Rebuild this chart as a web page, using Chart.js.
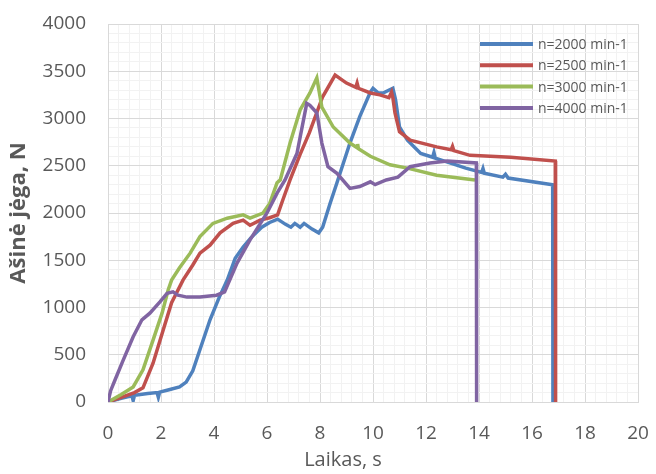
<!DOCTYPE html>
<html>
<head>
<meta charset="utf-8">
<script src="https://cdn.jsdelivr.net/npm/chart.js@4.4.1/dist/chart.umd.min.js"></script>
<style>
  html, body { margin: 0; padding: 0; background: #fff; }
  #wrap { width: 656px; height: 474px; }
</style>
</head>
<body>
<div id="wrap"><canvas id="forceChart" width="656" height="474"></canvas></div>
<script>
// measured axial force vs time for four spindle speeds
const labels = ['n=2000 min-1', 'n=2500 min-1', 'n=3000 min-1', 'n=4000 min-1'];
const colors = ['#4F81BD', '#C0504D', '#9BBB59', '#8064A2'];

const t2000 = [0, 0.5, 0.9, 0.95, 1.0, 1.5, 1.85, 1.9, 1.95, 2.3, 2.7, 2.95, 3.2, 3.5, 3.85, 4.2, 4.5, 4.8, 5.1, 5.4, 5.8, 6.1, 6.4, 6.7, 6.9, 7.05, 7.25, 7.4, 7.7, 7.95, 8.1, 8.38, 8.64, 9.13, 9.5, 9.9, 10.0, 10.2, 10.38, 10.75, 10.85, 11.0, 11.3, 11.8, 12.25, 12.3, 12.35, 12.9, 13.5, 14.1, 14.15, 14.2, 14.9, 15.0, 15.1, 16.78, 16.79];
const f2000 = [0, 40, 65, 15, 70, 90, 100, 50, 105, 130, 160, 210, 330, 580, 870, 1110, 1290, 1520, 1640, 1740, 1850, 1900, 1935, 1880, 1850, 1890, 1850, 1890, 1830, 1790, 1850, 2100, 2320, 2740, 3020, 3280, 3320, 3270, 3270, 3320, 3200, 2910, 2770, 2630, 2590, 2640, 2580, 2530, 2475, 2430, 2470, 2420, 2380, 2410, 2370, 2300, 0];

const t2500 = [0, 0.5, 1.0, 1.32, 1.7, 2.08, 2.4, 2.83, 3.2, 3.47, 3.85, 4.23, 4.72, 5.1, 5.36, 5.74, 6.1, 6.4, 6.6, 6.87, 7.25, 7.6, 8.1, 8.57, 9.0, 9.35, 9.4, 9.45, 9.9, 10.26, 10.6, 10.7, 10.75, 10.83, 11.0, 11.4, 12.4, 12.95, 13.0, 13.05, 13.66, 15.2, 16.88, 16.89];
const f2500 = [0, 50, 100, 150, 410, 760, 1050, 1290, 1450, 1575, 1660, 1790, 1890, 1925, 1870, 1925, 1950, 1980, 2140, 2350, 2620, 2850, 3230, 3460, 3375, 3330, 3375, 3320, 3270, 3250, 3220, 3280, 3220, 3060, 2860, 2770, 2700, 2670, 2705, 2660, 2610, 2590, 2550, 0];

const t3000 = [0, 0.5, 0.95, 1.32, 1.7, 2.04, 2.27, 2.4, 2.7, 3.1, 3.47, 3.96, 4.5, 5.1, 5.36, 5.85, 6.1, 6.38, 6.5, 6.87, 7.25, 7.62, 7.88, 8.07, 8.5, 9.13, 9.4, 9.42, 9.45, 9.9, 10.64, 11.3, 12.4, 13.85];
const f3000 = [0, 80, 160, 340, 655, 940, 1185, 1290, 1420, 1575, 1750, 1890, 1945, 1980, 1945, 2000, 2100, 2320, 2350, 2740, 3090, 3270, 3430, 3120, 2910, 2740, 2690, 2730, 2680, 2600, 2510, 2475, 2400, 2350];

const t4000 = [0, 0.1, 0.26, 0.57, 0.95, 1.28, 1.58, 1.96, 2.23, 2.45, 2.64, 2.98, 3.47, 4.1, 4.4, 4.87, 5.36, 6.0, 6.38, 6.68, 7.13, 7.5, 7.62, 7.88, 8.07, 8.3, 8.64, 9.13, 9.5, 9.9, 10.08, 10.5, 10.94, 11.4, 12.15, 12.8, 13.9, 13.91];
const f4000 = [0, 120, 230, 440, 690, 870, 940, 1060, 1150, 1165, 1130, 1110, 1110, 1130, 1165, 1470, 1715, 2000, 2210, 2350, 2630, 3160, 3140, 3060, 2740, 2490, 2420, 2260, 2280, 2330, 2300, 2350, 2380, 2490, 2530, 2550, 2530, 0];

const xTitle = 'Laikas, s';
const yTitle = 'Ašinė jėga, N';

const series = [[t2000, f2000], [t2500, f2500], [t3000, f3000], [t4000, f4000]];

const textColor = '#595959';
const majorGrid = '#d9d9d9';
const minorGrid = '#f2f2f2';

function isMultiple(v, step) {
  const r = v / step;
  return Math.abs(r - Math.round(r)) < 1e-6;
}

// legend drawn inside the plot, top right
const insideLegend = {
  id: 'insideLegend',
  afterDraw(chart) {
    const ctx = chart.ctx;
    ctx.save();
    ctx.font = '14px "Open Sans"';
    ctx.textBaseline = 'middle';
    chart.data.datasets.forEach((ds, i) => {
      const y = 44 + i * 21.3;
      ctx.strokeStyle = ds.borderColor;
      ctx.lineWidth = 4;
      ctx.beginPath();
      ctx.moveTo(480, y);
      ctx.lineTo(533, y);
      ctx.stroke();
      ctx.fillStyle = textColor;
      ctx.fillText(ds.label, 538, y + 1);
    });
    ctx.restore();
  }
};

// x axis title sits a little left of the plot centre
const xTitlePlugin = {
  id: 'xTitlePlugin',
  afterDraw(chart) {
    const ctx = chart.ctx;
    ctx.save();
    ctx.font = '20px "Open Sans"';
    ctx.fillStyle = textColor;
    ctx.textAlign = 'center';
    ctx.textBaseline = 'middle';
    ctx.fillText(xTitle, 343, 460);
    ctx.restore();
  }
};

const ctx = document.getElementById('forceChart').getContext('2d');
new Chart(ctx, {
  type: 'line',
  data: {
    datasets: series.map((s, i) => ({
      label: labels[i],
      data: s[0].map((t, k) => ({ x: t, y: s[1][k] })),
      borderColor: colors[i],
      backgroundColor: colors[i],
      borderWidth: 3.5,
      pointRadius: 0,
      tension: 0,
      fill: false,
      order: -i
    }))
  },
  options: {
    responsive: false,
    animation: false,
    layout: { padding: { left: 0, right: 18, top: 24, bottom: 0 } },
    plugins: {
      legend: { display: false },
      tooltip: { enabled: false }
    },
    scales: {
      x: {
        type: 'linear',
        min: 0,
        max: 20,
        afterFit(scale) {
          scale.height = 72;
          scale.paddingLeft = 0;
          scale.paddingRight = 0;
        },
        ticks: {
          stepSize: 0.4,
          autoSkip: false,
          maxRotation: 0,
          padding: 20,
          color: textColor,
          font: { family: 'Open Sans', size: 19 },
          callback: v => isMultiple(v, 2) ? String(Math.round(v)) : ''
        },
        grid: {
          drawTicks: false,
          color: c => isMultiple(c.tick.value, 2) ? majorGrid : minorGrid,
          lineWidth: 1
        },
        border: { color: majorGrid }
      },
      y: {
        min: 0,
        max: 4000,
        afterFit(scale) {
          scale.width = 108;
          scale.paddingTop = 0;
          scale.paddingBottom = 0;
        },
        title: {
          display: true,
          text: yTitle,
          color: textColor,
          font: { family: 'Open Sans', size: 22, weight: 'bold' },
          padding: { top: 6, bottom: 0 }
        },
        ticks: {
          stepSize: 100,
          autoSkip: false,
          padding: 22,
          color: textColor,
          font: { family: 'Open Sans', size: 19 },
          callback: v => isMultiple(v, 500) ? String(Math.round(v)) : ''
        },
        grid: {
          drawTicks: false,
          color: c => isMultiple(c.tick.value, 500) ? majorGrid : minorGrid,
          lineWidth: 1
        },
        border: { color: majorGrid }
      }
    }
  },
  plugins: [insideLegend, xTitlePlugin]
});
</script>
</body>
</html>
